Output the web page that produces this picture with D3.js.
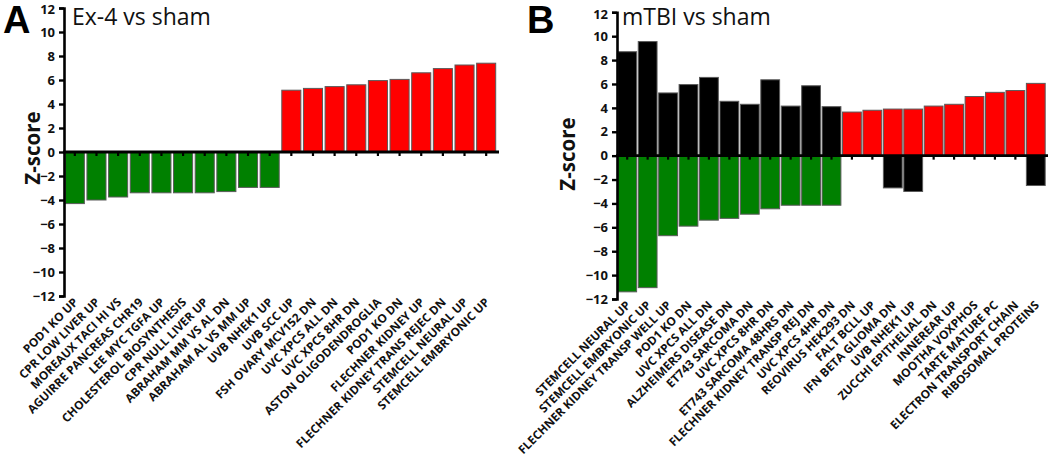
<!DOCTYPE html>
<html><head><meta charset="utf-8">
<script src="https://cdn.jsdelivr.net/npm/d3@7"></script>
<style>
body{margin:0;background:#fff;}
svg{display:block;}
</style></head>
<body>
<svg id="chart" width="1050" height="465"></svg>
<script>
// ---------- Data ----------
const aCategories = ["POD1 KO UP","CPR LOW LIVER UP","MOREAUX TACI HI VS","AGUIRRE PANCREAS CHR19","LEE MYC TGFA UP","CHOLESTEROL BIOSYNTHESIS","CPR NULL LIVER UP","ABRAHAM MM VS AL DN","ABRAHAM AL VS MM UP","UVB NHEK1 UP","UVB SCC UP","FSH OVARY MCV152 DN","UVC XPCS ALL DN","UVC XPCS 8HR DN","ASTON OLIGODENDROGLIA","POD1 KO DN","FLECHNER KIDNEY UP","FLECHNER KIDNEY TRANS REJEC DN","STEMCELL NEURAL UP","STEMCELL EMBRYONIC UP"];
const aValues = [-4.3,-4.0,-3.75,-3.4,-3.4,-3.4,-3.4,-3.3,-2.95,-2.95,5.15,5.3,5.45,5.6,5.95,6.05,6.6,6.95,7.25,7.4];

const bCategories = ["STEMCELL NEURAL UP","STEMCELL EMBRYONIC UP","FLECHNER KIDNEY TRANSP WELL UP","POD1 KO DN","UVC XPCS ALL DN","ALZHEIMERS DISEASE DN","ET743 SARCOMA DN","UVC XPCS 8HR DN","ET743 SARCOMA 48HRS DN","FLECHNER KIDNEY TRANSP REJ DN","UVC XPCS 4HR DN","REOVIRUS HEK293 DN","FALT BCLL UP","IFN BETA GLIOMA DN","UVB NHEK1 UP","ZUCCHI EPITHELIAL DN","INNEREAR UP","MOOTHA VOXPHOS","TARTE MATURE PC","ELECTRON TRANSPORT CHAIN","RIBOSOMAL PROTEINS"];
const bPositive = [8.7,9.55,5.25,5.95,6.55,4.55,4.3,6.35,4.15,5.85,4.1,3.65,3.8,3.9,3.9,4.15,4.3,4.95,5.3,5.45,6.05];
const bNegative = [-11.4,-11.05,-6.7,-5.9,-5.4,-5.25,-4.9,-4.45,-4.15,-4.15,-4.15,0,0,-2.7,-3.0,0,0,0,0,0,-2.5];
const bSetSplit = 11; // first 11 sets: down (green) / opposite (black); rest: up (red) / opposite (black)

const yTicks = [-12,-10,-8,-6,-4,-2,0,2,4,6,8,10,12];

// ---------- Drawing ----------
const svg = d3.select("#chart");
const GREEN = "#008000", RED = "#ff0000", BLACK = "#000000", OUTLINE = "#5a5a5a";
const FONT = "'Open Sans', Lato, sans-serif";

function panel(opts) {
  const g = svg.append("g");
  const y = d3.scaleLinear().domain([-12, 12]).range([opts.yBottom, opts.yTop]);
  const x = d3.scaleBand().domain(opts.cats).range([opts.x0, opts.x1]).paddingInner(opts.pad).paddingOuter(opts.pad / 2);

  g.selectAll("rect.bar").data(opts.bars).join("rect")
    .attr("x", d => x(d.c))
    .attr("width", x.bandwidth())
    .attr("y", d => y(Math.max(0, d.v)))
    .attr("height", d => Math.abs(y(d.v) - y(0)))
    .attr("fill", d => d.color)
    .attr("stroke", OUTLINE)
    .attr("stroke-width", 1);

  const ya = g.append("g").attr("transform", `translate(${opts.x0},0)`)
    .call(d3.axisLeft(y).tickValues(yTicks).tickFormat(d3.format("d")).tickSizeOuter(0).tickSize(5));
  ya.select(".domain").attr("stroke-width", 2.6).attr("stroke", "#000");
  ya.selectAll(".tick line").attr("stroke-width", 2.4);
  ya.selectAll(".tick text").attr("font-family", FONT).attr("font-weight", "bold")
    .attr("font-size", 13).attr("fill", "#111").attr("dx", "-1px")
    .attr("dy", d => d === 12 ? "0.45em" : "0.32em");

  const xa = g.append("g").attr("transform", `translate(0,${y(0)})`)
    .call(d3.axisBottom(x).tickSize(4).tickSizeOuter(0).tickFormat(""));
  xa.select(".domain").attr("stroke-width", 2.8).attr("stroke", "#000")
    .attr("d", `M${opts.x0 - 1},0H${opts.x1 + 2}`);
  xa.selectAll(".tick line").attr("stroke-width", 2.2).attr("y1", 1);

  g.selectAll("text.cat").data(opts.cats).join("text")
    .attr("class", "cat")
    .attr("transform", c => `translate(${x(c) + x.bandwidth() / 2 + 4},${opts.labelY}) rotate(-45)`)
    .attr("text-anchor", "end")
    .attr("font-family", FONT).attr("font-weight", "bold").attr("font-size", 11.8)
    .attr("fill", "#111")
    .text(c => c);

  g.append("text")
    .attr("transform", `translate(${opts.zX},${opts.zY}) rotate(-90)`)
    .attr("text-anchor", "middle")
    .attr("font-family", FONT).attr("font-weight", "bold").attr("font-size", 20.5)
    .attr("fill", "#111")
    .text("Z-score");

  g.append("text").attr("x", opts.letterX).attr("y", 33)
    .attr("font-family", "'Liberation Sans', Arial, sans-serif").attr("font-weight", "bold").attr("font-size", 38)
    .text(opts.letter);
  g.append("text").attr("x", opts.titleX).attr("y", 25)
    .attr("font-family", FONT).attr("font-size", 23).attr("fill", "#111")
    .text(opts.title);
}

panel({
  cats: aCategories,
  bars: aCategories.map((c, i) => ({c, v: aValues[i], color: aValues[i] < 0 ? GREEN : RED})),
  x0: 64, x1: 497, pad: 0.12, yTop: 8, yBottom: 296, labelY: 303,
  zX: 40, zY: 148, letter: "A", letterX: 3, title: "Ex-4 vs sham", titleX: 72
});

const bBars = [];
bCategories.forEach((c, i) => {
  bBars.push({c, v: bPositive[i], color: i < bSetSplit ? BLACK : RED});
  if (bNegative[i] !== 0) bBars.push({c, v: bNegative[i], color: i < bSetSplit ? GREEN : BLACK});
});
panel({
  cats: bCategories,
  bars: bBars,
  x0: 617, x1: 1046, pad: 0.08, yTop: 12.3, yBottom: 299, labelY: 306,
  zX: 575, zY: 154, letter: "B", letterX: 527, title: "mTBI vs sham", titleX: 622
});
</script>
</body></html>
